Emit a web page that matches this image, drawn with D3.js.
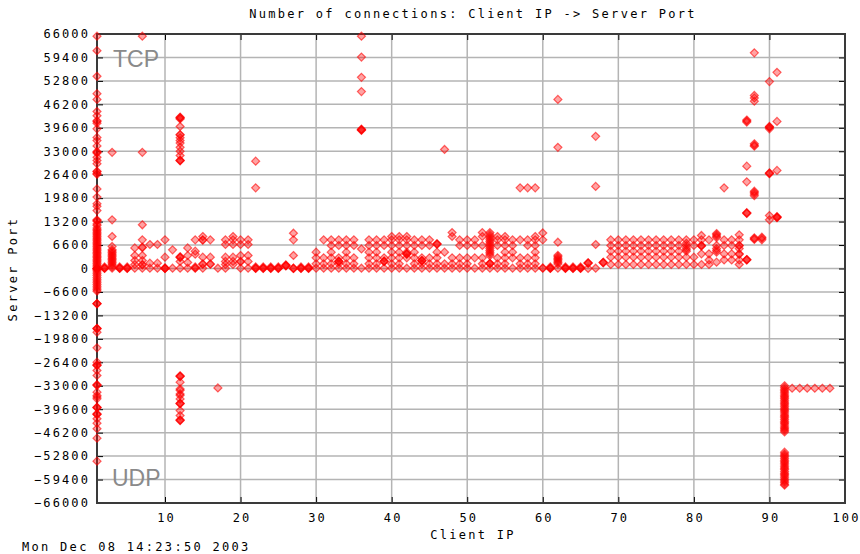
<!DOCTYPE html>
<html>
<head>
<meta charset="utf-8">
<script src="https://cdn.jsdelivr.net/npm/d3@7"></script>
<style>
body { margin: 0; background: #fff; }
text { font-family: "DejaVu Sans Mono", "Liberation Mono", monospace; }
</style>
</head>
<body>
<svg id="chart" width="860" height="554"></svg>
<script>
const titleText = "Number of connections: Client IP -> Server Port";
const xLabel = "Client IP";
const yLabel = "Server Port";
const stamp = "Mon Dec 08 14:23:50 2003";
const xTicks = [10, 20, 30, 40, 50, 60, 70, 80, 90, 100];
const yTicks = [66000, 59400, 52800, 46200, 39600, 33000, 26400, 19800, 13200, 6600, 0,
  -6600, -13200, -19800, -26400, -33000, -39600, -46200, -52800, -59400, -66000];

// [client ip index, server ports]
const tcpByClient = [
  [1, [65400, 61300, 54100, 49200, 47600, 44200, 43000, 41600, 41400, 40900, 39300, 36900, 36000, 34500, 32900, 32700, 32500, 31300, 30400, 29500, 27400, 27200, 26700, 26500, 22400, 20100, 18200, 17500, 16300, 13700, 13500, 13300, 12500, 12100, 11400, 11000, 10600, 10200, 9800, 9400, 9000, 8600, 8200, 7800, 7400, 7000, 6600, 6200, 5800, 5400, 5000, 4600, 4200, 3800, 3400, 3000, 2600, 2200, 1800, 1400, 1000, 600, 139, 80]],
  [2, [25, 80, 139, 443]],
  [3, [32700, 13700, 9000, 6200, 5300, 4900, 4500, 4100, 3700, 3300, 2900, 2500, 2100, 1700, 1300, 900, 443, 80]],
  [4, [25, 80, 139, 443]],
  [5, [25, 80, 139, 443]],
  [6, [5800, 3660, 2250, 1130, 80]],
  [7, [65400, 32700, 12300, 8070, 6000, 5900, 3660, 2250, 1130, 1000, 80]],
  [8, [6750, 1500, 80]],
  [9, [6750, 1500, 80]],
  [10, [8070, 3190, 21, 25, 80, 139]],
  [11, [5260, 80]],
  [12, [42600, 42500, 42300, 42100, 39960, 37700, 37600, 36800, 36000, 35300, 34100, 33000, 31800, 30500, 30400, 30300, 3300, 3190, 3100, 1970, 80]],
  [13, [5800, 3660, 1700, 80]],
  [14, [8070, 4870, 4030, 80, 139, 443]],
  [15, [9000, 8070, 8000, 3190, 1300, 1200, 80]],
  [16, [8070, 3190, 1300, 1200]],
  [17, [80]],
  [18, [8070, 6750, 3190, 2000, 1130, 80]],
  [19, [9000, 8070, 6750, 3190, 2000, 1130]],
  [20, [8070, 6750, 3660, 2000, 1900, 80]],
  [21, [8070, 6750, 3660, 2000, 80]],
  [22, [30200, 22700, 25, 80, 139, 443]],
  [23, [25, 80, 139, 443]],
  [24, [25, 80, 139, 443]],
  [25, [25, 80, 139, 443]],
  [26, [700, 800, 900, 1000]],
  [27, [9930, 8070, 3660, 21, 25, 80]],
  [28, [25, 80, 139, 443]],
  [29, [25, 80, 139, 443]],
  [30, [4590, 3000, 1320, 80]],
  [31, [8070, 3000, 1320, 80]],
  [32, [8070, 6470, 4590, 3000, 1320, 80]],
  [33, [8070, 6470, 3000, 2050, 2000, 1950, 1320, 80]],
  [34, [8070, 6470, 4590, 3000, 1320, 80]],
  [35, [8070, 6470, 3000, 1320, 80]],
  [36, [65400, 59500, 53800, 49800, 39200, 39100, 39000, 38900, 5500, 80]],
  [37, [8070, 6470, 4590, 3000, 1320, 80]],
  [38, [8070, 6470, 4590, 3000, 1320, 80]],
  [39, [8070, 6470, 3000, 2100, 2000, 1950, 80]],
  [40, [9000, 8070, 6470, 4590, 3000, 1320, 80]],
  [41, [9000, 8070, 6470, 4590, 3000, 1320, 80]],
  [42, [9000, 8070, 6470, 4590, 4140, 4100, 4050, 3000, 80]],
  [43, [8070, 6470, 4590, 3000, 1320, 80]],
  [44, [8070, 6470, 3000, 2250, 2200, 2150, 1320, 80]],
  [45, [8070, 6470, 3000, 1320, 80]],
  [46, [6950, 6900, 6850, 4590, 3000, 1320, 80]],
  [47, [33500, 4590, 1320, 80]],
  [48, [10100, 9000, 3000, 1320, 80]],
  [49, [8070, 6470, 3000, 1320, 80]],
  [50, [8070, 6470, 3000, 1320, 80]],
  [51, [8070, 6470, 3000, 80]],
  [52, [10100, 9000, 6470, 3000, 1320, 80]],
  [53, [10100, 9600, 9100, 8600, 8100, 7600, 7100, 6600, 6100, 5600, 5100, 4600, 4100, 3600, 1450, 1400, 1320, 80]],
  [54, [9000, 8070, 6470, 3000, 1320, 80]],
  [55, [9000, 8070, 6470, 4590, 3000, 1320, 80]],
  [56, [8070, 6470, 4590, 3000, 80]],
  [57, [22700, 8070, 3000, 1320, 80]],
  [58, [22700, 8070, 6470, 3000, 1320, 80]],
  [59, [22700, 9000, 8070, 6470, 4590, 3000, 1320, 80]],
  [60, [10000, 8070, 80, 139]],
  [61, [25, 80, 139, 443]],
  [62, [47600, 34100, 7400, 3700, 3300, 2900, 2500, 2100, 1700, 1300, 80]],
  [63, [25, 80, 139, 443]],
  [64, [25, 80, 139, 443]],
  [65, [25, 80, 139, 443]],
  [66, [1600, 1550, 1500, 21]],
  [67, [37200, 23100, 6750, 80]],
  [68, [1750, 1700, 1600]],
  [69, [8070, 6470, 4870, 3190, 1130]],
  [70, [8070, 6470, 4870, 3190, 1130]],
  [71, [8070, 6470, 4870, 3190, 1130]],
  [72, [8070, 6470, 4870, 3190, 1130]],
  [73, [8070, 6470, 4870, 3190, 1130]],
  [74, [8070, 6470, 4870, 3190, 1130]],
  [75, [8070, 6470, 4870, 3190, 1130]],
  [76, [8070, 6470, 4870, 3190, 1130]],
  [77, [8070, 6470, 4870, 3190, 1130]],
  [78, [8070, 6470, 4870, 3190, 1130]],
  [79, [8070, 7100, 6470, 5800, 5300, 4870, 3190, 1130]],
  [80, [8070, 6470, 3190, 1130]],
  [81, [9300, 8070, 6470, 6400, 6350, 4130, 1130]],
  [82, [8070, 4130, 2400, 1130]],
  [83, [9850, 9500, 9100, 8700, 6470, 5600, 5100, 4600, 1780]],
  [84, [22700, 8070, 6470, 4130, 2400]],
  [85, [8070, 6470, 4130, 2400]],
  [86, [9480, 8070, 6470, 6400, 5600, 4130, 4000, 2400, 1130]],
  [87, [41800, 41500, 41200, 28800, 24400, 15700, 15600, 15500, 2530, 2450, 2400]],
  [88, [60700, 48700, 48000, 47100, 35100, 34700, 34400, 21750, 21400, 21000, 20500, 8640, 8400, 8160]],
  [89, [8810, 8500, 8070]],
  [90, [52600, 40000, 39800, 39700, 39300, 26900, 26800, 26700, 14900, 13700]],
  [91, [55200, 41400, 27600, 14600, 14500, 14400, 14300]]
];

// UDP ports, drawn below zero
const udpByClient = [
  [1, [53, 137, 138, 500, 1000, 1500, 2000, 2500, 3000, 3500, 4000, 4500, 5000, 5500, 6000, 6400, 9940, 9900, 9850, 16970, 16900, 16850, 17920, 22330, 26360, 27300, 27200, 27100, 28700, 30110, 32920, 32800, 32700, 34800, 35740, 36200, 36680, 39030, 39100, 39200, 40900, 41000, 41100, 42300, 43520, 45100, 47750, 54230]],
  [12, [30400, 30300, 30200, 32000, 33900, 34300, 35300, 35700, 36700, 37900, 38000, 38100, 40000, 41400, 42600, 42700, 42800]],
  [17, [33600]],
  [92, [33000, 33500, 34000, 34400, 34800, 35300, 35800, 36200, 36600, 37100, 37600, 38000, 38400, 38900, 39400, 39800, 40200, 40700, 41200, 41600, 42000, 42500, 43000, 43400, 43800, 44300, 44800, 45200, 45600, 46000, 51700, 52200, 52600, 53000, 53500, 54000, 54400, 54800, 55300, 55800, 56200, 56600, 57100, 57600, 58000, 58400, 58900, 59400, 59800, 60200, 60700, 61000]],
  [93, [33700]],
  [94, [33700]],
  [95, [33700]],
  [96, [33700]],
  [97, [33700]],
  [98, [33700]]
];

const svg = d3.select("#chart");
const plotL = 97, plotR = 845, plotT = 34, plotB = 503;

const x = d3.scaleLinear().domain([1, 100]).range([plotL, plotR]);
const y = d3.scaleLinear().domain([-66000, 66000]).range([plotB, plotT]);

// grid
svg.append("g").selectAll("line")
  .data(yTicks).enter()
  .append("line")
  .attr("x1", plotL).attr("x2", plotR)
  .attr("y1", d => y(d)).attr("y2", d => y(d))
  .attr("stroke", "#b4b4b4").attr("stroke-width", 1.5);
svg.append("g").selectAll("line")
  .data(xTicks).enter()
  .append("line")
  .attr("y1", plotT).attr("y2", plotB)
  .attr("x1", d => x(d)).attr("x2", d => x(d))
  .attr("stroke", "#b4b4b4").attr("stroke-width", 1.5);

// axes with inward ticks
const tickFont = g => g.selectAll("text")
  .attr("font-family", "'DejaVu Sans Mono', monospace")
  .attr("font-size", 12).attr("letter-spacing", 2.1).attr("fill", "#000");

svg.append("g").attr("transform", `translate(${plotL},0)`)
  .call(d3.axisLeft(y).tickValues(yTicks).tickSizeInner(-6).tickSizeOuter(0).tickPadding(7).tickFormat(d3.format("d")))
  .call(g => g.select(".domain").remove())
  .call(tickFont);
svg.append("g").attr("transform", `translate(${plotR},0)`)
  .call(d3.axisRight(y).tickValues(yTicks).tickSizeInner(-6).tickSizeOuter(0).tickFormat(""))
  .call(g => g.select(".domain").remove());
svg.append("g").attr("transform", `translate(0,${plotB})`)
  .call(d3.axisBottom(x).tickValues(xTicks).tickSizeInner(-6).tickSizeOuter(0).tickPadding(10).tickFormat(d3.format("d")))
  .call(g => g.select(".domain").remove())
  .call(tickFont)
  .call(g => g.selectAll("text").attr("dx", 1));
svg.append("g").attr("transform", `translate(0,${plotT})`)
  .call(d3.axisTop(x).tickValues(xTicks).tickSizeInner(-6).tickSizeOuter(0).tickFormat(""))
  .call(g => g.select(".domain").remove());

svg.append("rect")
  .attr("x", plotL).attr("y", plotT)
  .attr("width", plotR - plotL).attr("height", plotB - plotT)
  .attr("fill", "none").attr("stroke", "#3a3a3a").attr("stroke-width", 2);

// points
const points = tcpByClient.flatMap(([ip, ports]) => ports.map(p => ({ip, v: p})))
  .concat(udpByClient.flatMap(([ip, ports]) => ports.map(p => ({ip, v: -p}))));

const diamond = "M0,-4L4,0L0,4L-4,0Z";
svg.append("g").selectAll("path")
  .data(points).enter()
  .append("path")
  .attr("d", diamond)
  .attr("transform", d => `translate(${x(d.ip)},${y(d.v)})`)
  .attr("fill", "#ff0000").attr("fill-opacity", 0.36)
  .attr("stroke", "#ff0000").attr("stroke-opacity", 0.6).attr("stroke-width", 1.2);

// labels
svg.append("text").attr("x", 113).attr("y", 67)
  .style("font-family", "'Liberation Sans', Arial, sans-serif")
  .attr("font-size", 23).attr("fill", "#8a8a8a").text("TCP");
svg.append("text").attr("x", 112).attr("y", 486)
  .style("font-family", "'Liberation Sans', Arial, sans-serif")
  .attr("font-size", 23).attr("fill", "#8a8a8a").text("UDP");

const label = (t, xx, yy, anchor) => svg.append("text")
  .attr("x", xx).attr("y", yy).attr("text-anchor", anchor)
  .attr("font-size", 12).attr("letter-spacing", 2.3).text(t);

label(titleText, 473, 18, "middle");
label(xLabel, 473, 539, "middle");
label(stamp, 22, 551, "start");
label(yLabel, 0, 0, "middle").attr("transform", "translate(17,269) rotate(-90)");
</script>
</body>
</html>
